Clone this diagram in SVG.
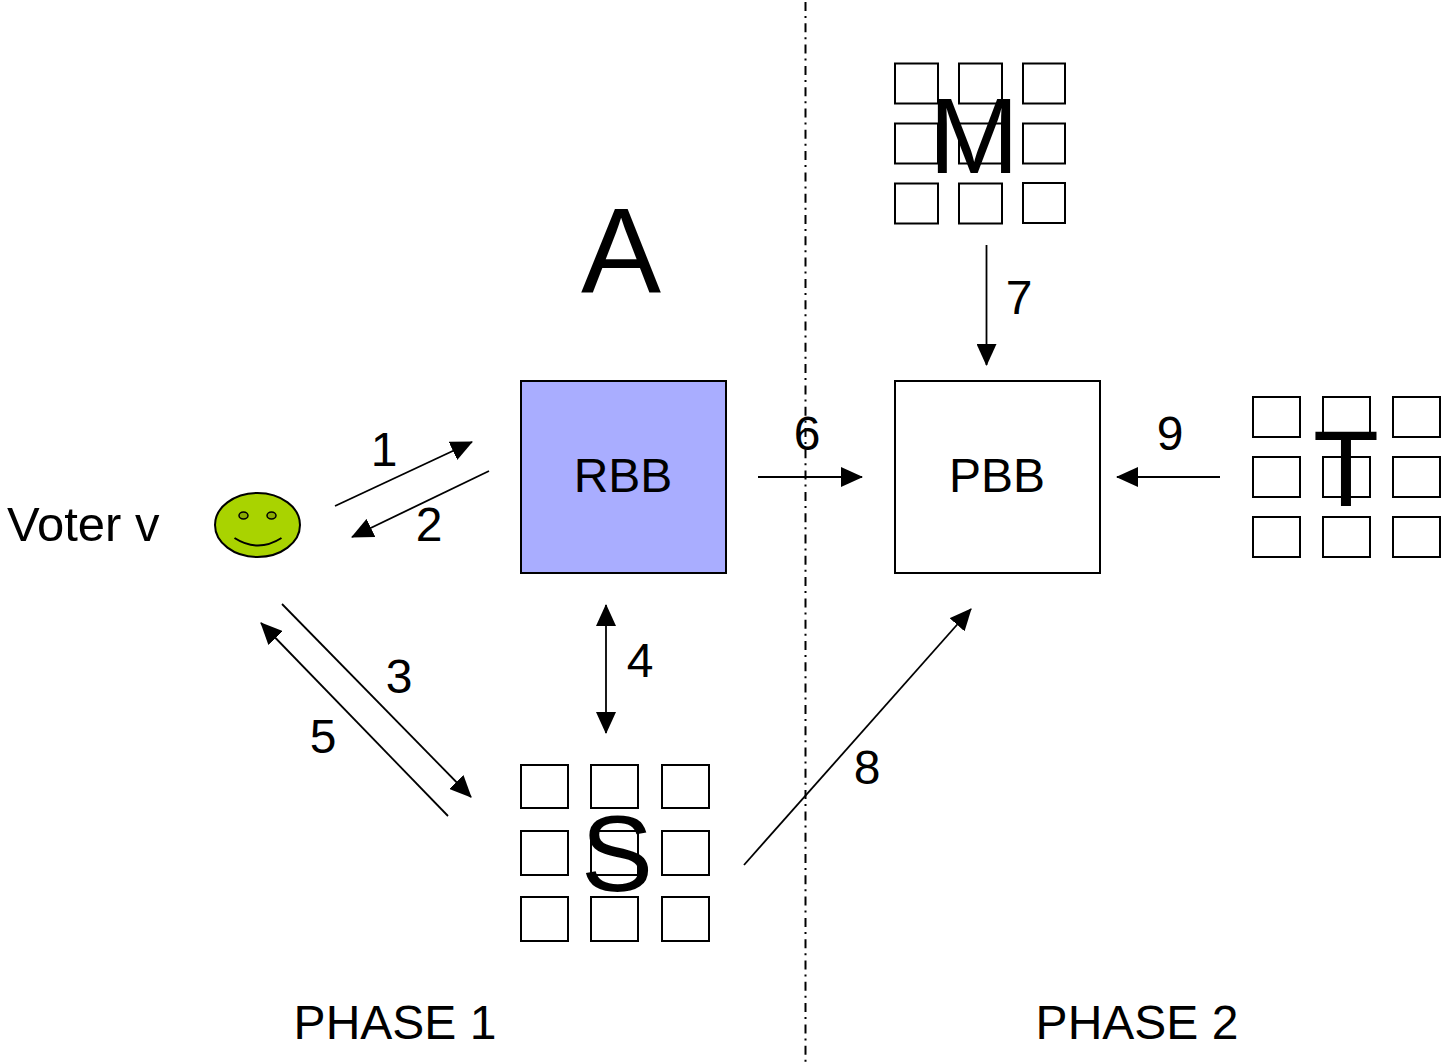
<svg xmlns="http://www.w3.org/2000/svg" width="1443" height="1062" viewBox="0 0 1443 1062">
<style>
text{font-family:"Liberation Sans",Arial,sans-serif;fill:#000;font-size:48px}
.c{text-anchor:middle}
.big{font-size:108px}
.box{fill:#fff;stroke:#000;stroke-width:2}
.ln{fill:none;stroke:#000;stroke-width:1.8}
.a{marker-end:url(#ah)}
</style>
<defs>
<marker id="ah" viewBox="0 0 22 20" refX="21" refY="10" markerWidth="22" markerHeight="20" markerUnits="userSpaceOnUse" orient="auto-start-reverse"><path d="M0 0L22 10L0 20Z" fill="#000"/></marker>
</defs>
<g id="divider"><line x1="805.5" y1="2" x2="805.5" y2="1062" fill="none" stroke="#000" stroke-width="2" stroke-dasharray="9 5 2 5.3"/></g>
<g id="connectors">
<line class="ln a" x1="335" y1="506" x2="472" y2="442"/>
<line class="ln a" x1="489" y1="471" x2="352" y2="537"/>
<line class="ln a" x1="282" y1="604" x2="471" y2="797"/>
<line class="ln a" x1="448" y1="816" x2="261" y2="623"/>
<line class="ln a" x1="606" y1="733" x2="606" y2="605" style="marker-start:url(#ah)"/>
<line class="ln a" x1="758" y1="477" x2="862" y2="477"/>
<line class="ln a" x1="986.500" y1="245" x2="986.500" y2="365"/>
<line class="ln a" x1="744" y1="865" x2="971" y2="609"/>
<line class="ln a" x1="1220" y1="477" x2="1117" y2="477"/>
</g>
<g id="voter">
<text x="7" y="541" style="font-size:49px">Voter v</text>
<ellipse cx="257.500" cy="525" rx="42.500" ry="32" fill="#a9d300" stroke="#000" stroke-width="2"/>
<ellipse cx="243.500" cy="515.500" rx="4.500" ry="3.500" fill="#88a900" stroke="#000" stroke-width="1.500"/>
<ellipse cx="271.500" cy="515.500" rx="4.500" ry="3.500" fill="#88a900" stroke="#000" stroke-width="1.500"/>
<path d="M234.500 538Q258 553 281.500 538" fill="none" stroke="#000" stroke-width="2"/>
</g>
<g id="rbb"><rect class="box" x="521" y="381" width="205" height="192" style="fill:#a9adff"/><text class="c" x="623" y="492">RBB</text></g>
<g id="pbb"><rect class="box" x="895" y="381" width="205" height="192"/><text class="c" x="997" y="492">PBB</text></g>
<g id="a"><text class="c" x="621" y="292" style="font-size:120px">A</text></g>
<g id="m">
<rect class="box" x="895" y="63.500" width="43" height="40"/><rect class="box" x="959" y="63.500" width="43" height="40"/><rect class="box" x="1023" y="63.500" width="42" height="40"/>
<rect class="box" x="895" y="123.500" width="43" height="40"/><rect class="box" x="959" y="123.500" width="43" height="40"/><rect class="box" x="1023" y="123.500" width="42" height="40"/>
<rect class="box" x="895" y="183.500" width="43" height="40"/><rect class="box" x="959" y="183.500" width="43" height="40"/><rect class="box" x="1023" y="183" width="42" height="40"/>
<text class="c big" x="974" y="173">M</text>
</g>
<g id="s">
<rect class="box" x="521" y="765" width="47" height="43"/><rect class="box" x="591" y="765" width="47" height="43"/><rect class="box" x="662" y="765" width="47" height="43"/>
<rect class="box" x="521" y="831" width="47" height="44"/><rect class="box" x="591" y="831" width="47" height="44"/><rect class="box" x="662" y="831" width="47" height="44"/>
<rect class="box" x="521" y="897" width="47" height="44"/><rect class="box" x="591" y="897" width="47" height="44"/><rect class="box" x="662" y="897" width="47" height="44"/>
<text class="c big" x="617" y="891">S</text>
</g>
<g id="t">
<rect class="box" x="1253" y="397" width="47" height="40"/><rect class="box" x="1323" y="397" width="47" height="40"/><rect class="box" x="1393" y="397" width="47" height="40"/>
<rect class="box" x="1253" y="457" width="47" height="40"/><rect class="box" x="1323" y="457" width="47" height="40"/><rect class="box" x="1393" y="457" width="47" height="40"/>
<rect class="box" x="1253" y="517" width="47" height="40"/><rect class="box" x="1323" y="517" width="47" height="40"/><rect class="box" x="1393" y="517" width="47" height="40"/>
<text class="c big" x="1346" y="506">T</text>
</g>
<g id="labels">
<text class="c" x="384" y="466">1</text>
<text class="c" x="429" y="541">2</text>
<text class="c" x="399" y="693">3</text>
<text class="c" x="640" y="677">4</text>
<text class="c" x="323" y="753">5</text>
<text class="c" x="807" y="450">6</text>
<text class="c" x="1019" y="314">7</text>
<text class="c" x="867" y="784">8</text>
<text class="c" x="1170" y="450">9</text>
<text class="c" x="395" y="1039">PHASE 1</text>
<text class="c" x="1137" y="1039">PHASE 2</text>
</g>
</svg>
